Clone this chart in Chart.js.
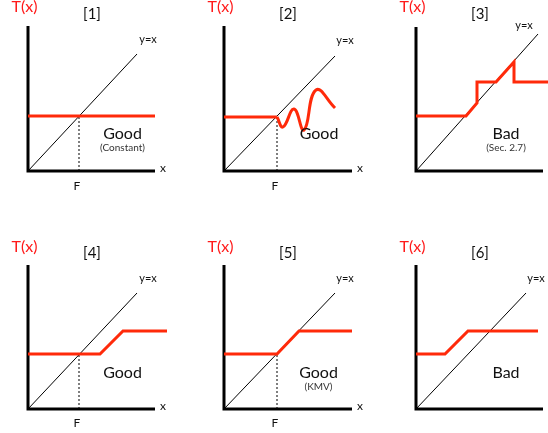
<!DOCTYPE html>
<html>
<head>
<meta charset="utf-8">
<script src="https://cdn.jsdelivr.net/npm/chart.js@4.4.1/dist/chart.umd.min.js"></script>
<style>
  html, body { margin: 0; padding: 0; background: #fff; }
  body { width: 548px; height: 433px; position: relative; overflow: hidden; }
  .panel { position: absolute; }
</style>
</head>
<body>
<div class="panel" style="left:0px;top:0px;width:182px;height:205px"><canvas id="c1"></canvas></div>
<div class="panel" style="left:182px;top:0px;width:182px;height:205px"><canvas id="c2"></canvas></div>
<div class="panel" style="left:364px;top:0px;width:184px;height:205px"><canvas id="c3"></canvas></div>
<div class="panel" style="left:0px;top:215px;width:182px;height:218px"><canvas id="c4"></canvas></div>
<div class="panel" style="left:182px;top:215px;width:182px;height:218px"><canvas id="c5"></canvas></div>
<div class="panel" style="left:364px;top:215px;width:184px;height:218px"><canvas id="c6"></canvas></div>
<script>
// ---------- data (arbitrary units) ----------
const panelTitles = ["[1]", "[2]", "[3]", "[4]", "[5]", "[6]"];
const verdicts = ["Good", "Good", "Bad", "Good", "Good", "Bad"];
const verdictNotes = ["(Constant)", "", "(Sec. 2.7)", "", "(KMV)", ""];
const yLabel = "T(x)";
const diagLabel = "y=x";
const xLabel = "x";
const fLabel = "F";

// axis extents [xEnd, yTop]
const axisExtents = [[12.7, 14.5], [12.8, 14.5], [12.7, 14.4], [12.7, 14.4], [12.8, 14.4], [12.7, 14.4]];
// end of the y=x diagonal
const diagEnds = [[10.9, 11.7], [11.1, 11.5], [12.2, 13.7], [10.9, 11.6], [11.1, 11.6], [11.0, 11.6]];
// F position (null when not marked)
const fValues = [5.1, 5.3, null, 5.1, 5.3, null];
const fLevels = [5.5, 5.4, null, 5.5, 5.5, null];

// T(x) curves
const t1x = [0, 12.7],                 t1y = [5.5, 5.5];
const t2flatX = [0, 5.3],              t2flatY = [5.4, 5.4];
const t2waveX = [5.3, 5.9, 7.0, 8.0, 9.2, 11.1];
const t2waveY = [5.4, 4.4, 6.2, 4.1, 8.1, 6.3];
const t3x = [0, 5.0, 6.1, 6.1, 8.0, 9.8, 9.8, 13.2];
const t3y = [5.5, 5.5, 6.8, 8.9, 8.9, 10.9, 8.9, 8.9];
const t4x = [0, 7.2, 9.5, 13.9],       t4y = [5.5, 5.5, 7.8, 7.8];
const t5x = [0, 5.3, 7.5, 12.8],       t5y = [5.5, 5.5, 7.8, 7.8];
const t6x = [0, 2.9, 5.2, 12.2],       t6y = [5.5, 5.5, 7.8, 7.8];

// ---------- layout (pixel placement of each panel) ----------
// canvas box [left, top, width, height] and axis origin pixel [ox, oy]
const layout = [
  { box: [0, 0, 182, 205],   origin: [28, 171] },
  { box: [182, 0, 182, 205], origin: [224, 171] },
  { box: [364, 0, 184, 205], origin: [416, 171] },
  { box: [0, 215, 182, 218], origin: [28, 409] },
  { box: [182, 215, 182, 218], origin: [224, 409] },
  { box: [364, 215, 184, 218], origin: [416, 409] }
];
const UNIT = 10; // px per data unit

const RED = '#ff2a0a';
const TXT_RED = '#ff1a1a';
const FONT = 'Lato, "Open Sans", sans-serif';

function pts(xs, ys) { return xs.map((x, i) => ({ x: x, y: ys[i] })); }

const labelPlugin = {
  id: 'panelLabels',
  afterDatasetsDraw(chart, args, opts) {
    const ctx = chart.ctx, sx = chart.scales.x, sy = chart.scales.y;
    ctx.save();
    ctx.textAlign = 'center';
    ctx.textBaseline = 'middle';
    (opts.items || []).forEach(it => {
      ctx.font = it.font;
      ctx.fillStyle = it.color;
      ctx.fillText(it.text, sx.getPixelForValue(it.x), sy.getPixelForValue(it.y));
    });
    ctx.restore();
  }
};

function makePanel(i, redSets) {
  const L = layout[i];
  const [left, top, w, h] = L.box;
  const [ox, oy] = L.origin;
  const [xEnd, yTop] = axisExtents[i];
  const [dx, dy] = diagEnds[i];
  const datasets = [];
  // axes
  datasets.push({ data: pts([0, 0, xEnd], [yTop, 0, 0]), borderColor: '#000', borderWidth: 3,
    borderJoinStyle: 'miter', borderCapStyle: 'butt', order: 1 });
  // diagonal y = x
  datasets.push({ data: pts([0, dx], [0, dy]), borderColor: '#000', borderWidth: 1, order: 3 });
  // F dotted guide
  if (fValues[i] !== null) {
    datasets.push({ data: pts([fValues[i], fValues[i]], [0, fLevels[i]]), borderColor: '#000',
      borderWidth: 1, borderDash: [2, 2], order: 3 });
  }
  redSets.forEach(r => datasets.push(Object.assign({ borderColor: RED, borderWidth: 3,
    borderJoinStyle: 'miter', order: 0 }, r)));
  datasets.forEach(d => { d.showLine = true; d.pointRadius = 0; d.fill = false; d.tension = d.tension || 0; });

  const items = [];
  items.push({ text: yLabel, x: -0.35, y: (i < 3 ? 16.4 : 16.2), font: '16px ' + FONT, color: TXT_RED });
  items.push({ text: panelTitles[i], x: 6.4, y: (i < 3 ? 15.7 : 15.6), font: '15px ' + FONT, color: '#111' });
  const diagLab = [[12.0, 13.2], [12.1, 13.1], [10.8, 14.6], [12.0, 13.1], [12.1, 13.1], [12.0, 13.1]][i];
  items.push({ text: diagLabel, x: diagLab[0], y: diagLab[1], font: '11px ' + FONT, color: '#111' });
  const vx = (i === 2 || i === 5) ? 9.0 : 9.45;
  const vy = i < 3 ? 3.7 : 3.6;
  items.push({ text: verdicts[i], x: (i === 1 ? 9.5 : vx), y: vy, font: '16px ' + FONT, color: '#111' });
  if (verdictNotes[i]) items.push({ text: verdictNotes[i], x: vx, y: vy - 1.4, font: '10px ' + FONT, color: '#333' });
  if (fValues[i] !== null) {
    items.push({ text: xLabel, x: xEnd + 0.8, y: 0.25, font: '12px ' + FONT, color: '#111' });
    items.push({ text: fLabel, x: fValues[i] - 0.2, y: (i < 3 ? -1.5 : -1.4), font: '12px ' + FONT, color: '#111' });
  }

  const canvas = document.getElementById('c' + (i + 1));
  new Chart(canvas, {
    type: 'scatter',
    data: { datasets: datasets },
    options: {
      responsive: true, maintainAspectRatio: false, animation: false,
      layout: { padding: 0 },
      clip: false,
      plugins: { legend: { display: false }, tooltip: { enabled: false }, panelLabels: { items: items } },
      scales: {
        x: { type: 'linear', display: false, min: (left - ox) / UNIT, max: (left + w - ox) / UNIT },
        y: { type: 'linear', display: false, min: (oy - (top + h)) / UNIT, max: (oy - top) / UNIT }
      }
    },
    plugins: [labelPlugin]
  });
}

makePanel(0, [{ data: pts(t1x, t1y) }]);
makePanel(1, [{ data: pts(t2flatX, t2flatY) }, { data: pts(t2waveX, t2waveY), tension: 0.45, cubicInterpolationMode: 'default' }]);
makePanel(2, [{ data: pts(t3x, t3y) }]);
makePanel(3, [{ data: pts(t4x, t4y) }]);
makePanel(4, [{ data: pts(t5x, t5y) }]);
makePanel(5, [{ data: pts(t6x, t6y) }]);
</script>
</body>
</html>
